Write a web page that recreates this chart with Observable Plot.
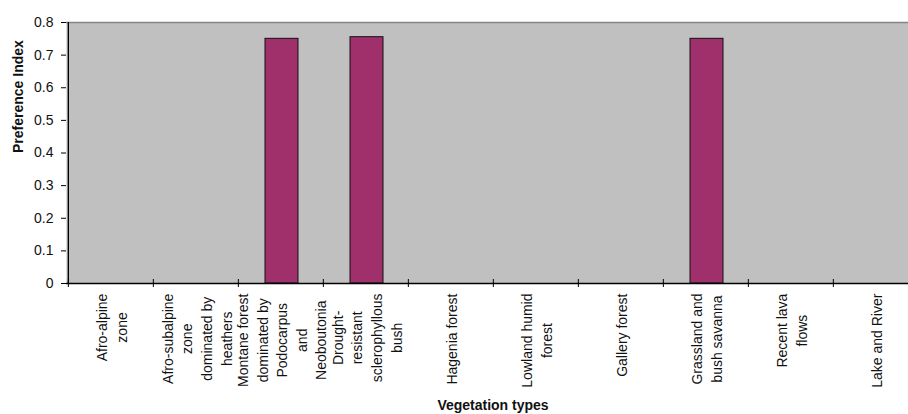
<!DOCTYPE html>
<html>
<head>
<meta charset="utf-8">
<script src="https://cdn.jsdelivr.net/npm/d3@7"></script>
<script src="https://cdn.jsdelivr.net/npm/@observablehq/plot@0.6"></script>
<style>
  body { margin: 0; background: #fff; }
  svg { font-family: "Liberation Sans", Arial, sans-serif; }
</style>
</head>
<body>
<script>
const categories = [
  "Afro-alpine zone",
  "Afro-subalpine zone dominated by heathers",
  "Montane forest dominated by Podocarpus and Neoboutonia",
  "Drought-resistant sclerophyllous bush",
  "Hagenia forest",
  "Lowland humid forest",
  "Gallery forest",
  "Grassland and bush savanna",
  "Recent lava flows",
  "Lake and River"
];
const tickLabels = [
  "Afro-alpine\nzone",
  "Afro-subalpine\nzone\ndominated by\nheathers",
  "Montane forest\ndominated by\nPodocarpus\nand\nNeoboutonia",
  "Drought-\nresistant\nsclerophyllous\nbush",
  "Hagenia forest",
  "Lowland humid\nforest",
  "Gallery forest",
  "Grassland and\nbush savanna",
  "Recent lava\nflows",
  "Lake and River"
];
const values = [0, 0, 0.75, 0.755, 0, 0, 0, 0.75, 0, 0];
const yTicks = [0, 0.1, 0.2, 0.3, 0.4, 0.5, 0.6, 0.7, 0.8];

const data = categories.map((c, i) => ({category: c, value: values[i], label: tickLabels[i]}));

const W = 908, H = 414, mL = 66, mR = -11, mT = 22, mB = 131;
const bw = (W - mL - mR) / categories.length;

const chart = Plot.plot({
  width: W,
  height: H,
  marginLeft: mL,
  marginRight: mR,
  marginTop: mT,
  marginBottom: mB,
  style: {fontFamily: "Liberation Sans, Arial, sans-serif", fontSize: "14px", background: "#fff", overflow: "visible"},
  x: {domain: categories, padding: 0, axis: null},
  y: {domain: [0, 0.8], axis: null},
  marks: [
    Plot.frame({fill: "#c0c0c0", stroke: null}),
    Plot.ruleY([0.8], {stroke: "#858585", strokeWidth: 1.5}),
    Plot.barY(data, {x: "category", y: "value", fill: "#a0306c", stroke: "#111", strokeWidth: 1, insetLeft: 27, insetRight: 25}),
    Plot.ruleY([0], {stroke: "#000", strokeWidth: 1.3}),
    Plot.ruleX(categories.slice(0, 1), {x: d => d, dx: -bw / 2, y1: 0, y2: 0.8, stroke: "#000", strokeWidth: 1.3}),
    Plot.ruleX(categories, {x: d => d, dx: -bw / 2, y1: 0, y2: 0, insetTop: -4, insetBottom: -4, stroke: "#000", strokeWidth: 1}),
    Plot.axisY({ticks: yTicks, tickSize: 5, tickPadding: 8, tickFormat: d3.format("~g"), fontSize: 14, fill: "#111", label: null}),
    Plot.text(data, {x: "category", text: "label", frameAnchor: "bottom", lineAnchor: "middle", rotate: -90, textAnchor: "middle", lineHeight: 1.4, dy: 10, fontSize: 14, fill: "#111"}),
    Plot.text(["Preference Index"], {frameAnchor: "left", rotate: -90, dx: -48, fontSize: 14, fontWeight: "bold", fill: "#111"}),
    Plot.text(["Vegetation types"], {frameAnchor: "bottom", lineAnchor: "middle", dy: 122, fontSize: 14, fontWeight: "bold", fill: "#111"})
  ]
});
document.body.appendChild(chart);

// Top-align each rotated multi-line label block (lines centred on each other, longest line starting just below the axis)
const flat = new Set(tickLabels.map(l => l.replace(/\n/g, "")));
chart.querySelectorAll("text").forEach(t => {
  if (!flat.has(t.textContent)) return;
  const w = t.getBBox().width;
  const tr = t.getAttribute("transform") || "";
  t.setAttribute("transform", tr + ` translate(${-w / 2},0)`);
});
</script>
</body>
</html>
